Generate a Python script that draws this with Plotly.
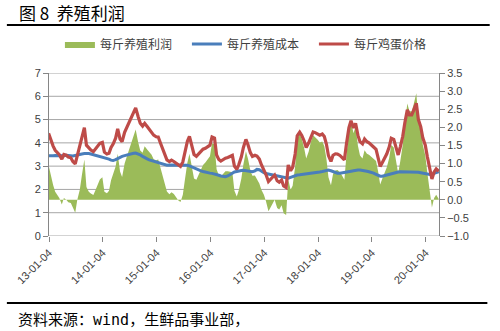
import pandas as pd
import plotly.graph_objects as go

# Semi-monthly observation dates
dates = pd.date_range("2013-01-01", "2020-04-01", freq="SMS")

# 每斤鸡蛋价格 (yuan/jin)
egg_price = [
    4.41, 4.12, 3.86, 3.68, 3.58, 3.49, 3.30, 3.50, 3.47, 3.39,
    3.36, 3.20, 3.10, 3.47, 3.78, 4.20, 4.65, 3.90, 3.76, 3.69,
    3.62, 3.72, 3.88, 3.98, 4.02, 3.60, 3.52, 3.55, 3.80, 3.95,
    4.20, 4.60, 4.16, 4.05, 4.45, 4.66, 4.88, 5.06, 5.35, 5.50,
    5.12, 4.84, 4.72, 4.84, 4.70, 4.58, 4.48, 4.33, 4.26, 4.25,
    3.96, 3.70, 3.46, 3.27, 3.20, 3.26, 3.20, 3.13, 3.04, 2.99,
    3.18, 3.60, 4.07, 4.28, 3.85, 3.50, 3.42, 3.52, 3.65, 3.73,
    3.77, 3.84, 3.90, 4.25, 4.20, 3.48, 3.29, 3.22, 3.29, 3.34,
    3.37, 3.41, 3.46, 3.00, 2.86, 3.07, 3.40, 3.80, 4.15, 3.92,
    3.58, 3.42, 3.47, 3.43, 3.30, 3.06, 2.86, 2.64, 2.34, 2.43,
    2.52, 2.62, 2.37, 2.31, 2.40, 2.15, 2.08, 3.05, 2.80, 2.95,
    3.52, 4.30, 4.46, 4.32, 4.08, 3.80, 4.00, 4.27, 4.47, 4.44,
    4.39, 4.33, 4.38, 4.27, 3.95, 3.45, 3.20, 3.47, 3.53, 3.52,
    3.46, 3.38, 3.27, 3.95, 4.65, 4.95, 4.64, 4.84, 4.32, 4.05,
    3.96, 4.17, 4.05, 4.00, 3.92, 3.82, 3.72, 3.38, 2.99, 3.15,
    3.33, 3.53, 3.82, 4.20, 4.15, 3.85, 3.48, 3.82, 4.28, 4.85,
    5.42, 5.20, 5.20, 5.42, 5.70, 5.00, 4.70, 4.22, 3.90, 3.40,
    2.90, 2.45, 2.75, 2.88, 2.78,
]

# 每斤养殖成本 (yuan/jin)
feed_cost = [
    3.45, 3.44, 3.45, 3.46, 3.45, 3.44, 3.43, 3.45, 3.47, 3.46,
    3.45, 3.44, 3.46, 3.47, 3.50, 3.52, 3.54, 3.55, 3.54, 3.52,
    3.49, 3.46, 3.44, 3.42, 3.40, 3.38, 3.34, 3.30, 3.26, 3.24,
    3.28, 3.33, 3.38, 3.42, 3.45, 3.48, 3.50, 3.52, 3.55, 3.56,
    3.53, 3.48, 3.42, 3.36, 3.31, 3.27, 3.24, 3.21, 3.17, 3.14,
    3.11, 3.08, 3.05, 3.04, 3.05, 3.05, 3.04, 3.05, 3.06, 3.05,
    3.04, 3.05, 3.04, 3.01, 2.96, 2.91, 2.87, 2.83, 2.80, 2.77,
    2.74, 2.72, 2.70, 2.69, 2.67, 2.64, 2.61, 2.58, 2.56, 2.55,
    2.58, 2.64, 2.70, 2.75, 2.77, 2.80, 2.81, 2.82, 2.81, 2.79,
    2.77, 2.76, 2.80, 2.86, 2.85, 2.78, 2.72, 2.68, 2.66, 2.64,
    2.63, 2.62, 2.60, 2.58, 2.55, 2.52, 2.50, 2.48, 2.52, 2.56,
    2.60, 2.62, 2.63, 2.64, 2.65, 2.66, 2.67, 2.68, 2.69, 2.71,
    2.73, 2.75, 2.77, 2.79, 2.81, 2.83, 2.80, 2.76, 2.72, 2.70,
    2.70, 2.71, 2.72, 2.73, 2.75, 2.78, 2.80, 2.82, 2.83, 2.83,
    2.82, 2.80, 2.78, 2.76, 2.74, 2.70, 2.65, 2.60, 2.57, 2.57,
    2.60, 2.63, 2.67, 2.69, 2.71, 2.73, 2.75, 2.76, 2.76, 2.77,
    2.76, 2.75, 2.76, 2.77, 2.76, 2.74, 2.72, 2.70, 2.68, 2.66,
    2.64, 2.66, 2.70, 2.74, 2.76,
]

# 每斤养殖利润 (yuan/jin)
farm_profit = [
    0.96, 0.68, 0.41, 0.22, 0.13, 0.05, -0.13, 0.05, 0.00, -0.07,
    -0.09, -0.24, -0.36, 0.00, 0.28, 0.68, 1.11, 0.35, 0.22, 0.17,
    0.13, 0.26, 0.44, 0.56, 0.62, 0.22, 0.18, 0.25, 0.54, 0.71,
    0.92, 1.27, 0.78, 0.63, 1.00, 1.18, 1.38, 1.54, 1.80, 1.94,
    1.59, 1.36, 1.30, 1.48, 1.39, 1.31, 1.24, 1.12, 1.09, 1.11,
    0.85, 0.62, 0.41, 0.23, 0.15, 0.21, 0.16, 0.08, -0.02, -0.06,
    0.14, 0.55, 1.03, 1.27, 0.89, 0.59, 0.55, 0.69, 0.85, 0.96,
    1.03, 1.12, 1.20, 1.56, 1.53, 0.84, 0.68, 0.64, 0.73, 0.79,
    0.79, 0.77, 0.76, 0.25, 0.09, 0.27, 0.59, 0.98, 1.34, 1.13,
    0.81, 0.66, 0.67, 0.57, 0.45, 0.28, 0.14, -0.04, -0.32, -0.21,
    -0.11, 0.00, -0.23, -0.27, -0.15, -0.37, -0.42, 0.57, 0.28, 0.39,
    0.92, 1.68, 1.83, 1.68, 1.43, 1.14, 1.33, 1.59, 1.78, 1.73,
    1.66, 1.58, 1.61, 1.48, 1.14, 0.62, 0.40, 0.71, 0.81, 0.82,
    0.76, 0.67, 0.55, 1.22, 1.90, 2.17, 1.84, 2.02, 1.49, 1.22,
    1.14, 1.37, 1.27, 1.24, 1.18, 1.12, 1.07, 0.78, 0.42, 0.58,
    0.73, 0.90, 1.15, 1.51, 1.44, 1.12, 0.73, 1.06, 1.52, 2.08,
    2.66, 2.45, 2.44, 2.65, 2.94, 2.26, 1.98, 1.52, 1.22, 0.74,
    0.26, -0.21, 0.05, 0.14, 0.02,
]

# Axis ticks
tick_dates = ["2013-01-04", "2014-01-04", "2015-01-04", "2016-01-04",
              "2017-01-04", "2018-01-04", "2019-01-04", "2020-01-04"]
tick_labels = ["13-01-04", "14-01-04", "15-01-04", "16-01-04",
               "17-01-04", "18-01-04", "19-01-04", "20-01-04"]

GREEN = "#9BBB59"
BLUE = "#4A7EBB"
RED = "#BE4B48"
GRID = "#A6A6A6"
TEXT = "#404040"
CJK = "Noto Sans CJK SC, sans-serif"

fig = go.Figure()

fig.add_trace(go.Scatter(
    x=dates, y=farm_profit, name="每斤养殖利润", yaxis="y",
    mode="lines", line=dict(width=0, color=GREEN),
    fill="tozeroy", fillcolor=GREEN,
))
fig.add_trace(go.Scatter(
    x=dates, y=feed_cost, name="每斤养殖成本", yaxis="y2",
    mode="lines", line=dict(width=3, color=BLUE),
))
fig.add_trace(go.Scatter(
    x=dates, y=egg_price, name="每斤鸡蛋价格", yaxis="y2",
    mode="lines", line=dict(width=3.2, color=RED),
))

fig.update_layout(
    width=500, height=331,
    margin=dict(l=49, r=61, t=73, b=95),
    paper_bgcolor="white", plot_bgcolor="white",
    font=dict(family=CJK, size=11, color=TEXT),
    showlegend=True,
    legend=dict(
        orientation="h", x=0.028, y=1.178, xanchor="left", yanchor="middle",
        font=dict(size=12, color=TEXT, family=CJK),
        entrywidth=82, entrywidthmode="pixels",
        itemwidth=30, bgcolor="rgba(0,0,0,0)", tracegroupgap=0,
    ),
    xaxis=dict(
        type="date", range=["2013-01-04", "2020-04-03"],
        tickvals=tick_dates, ticktext=tick_labels, tickangle=-45,
        ticks="outside", ticklen=5, tickcolor="#868686",
        showgrid=False, showline=False, zeroline=False,
        tickfont=dict(family="Liberation Sans, sans-serif", size=11, color=TEXT),
    ),
    # right-hand scale for profit (drawn beneath the lines)
    yaxis=dict(
        side="right", range=[-1.0, 3.5], dtick=0.5, tickformat=".1f",
        showgrid=False, zeroline=False,
        showline=True, linecolor="#868686", ticks="outside", ticklen=5,
        tickcolor="#868686",
        tickfont=dict(family="Liberation Sans, sans-serif", size=11, color=TEXT),
    ),
    # left-hand scale for price and cost
    yaxis2=dict(
        side="left", overlaying="y", range=[0, 7], dtick=1,
        showgrid=False, zeroline=False,
        showline=True, linecolor="#868686", ticks="outside", ticklen=5,
        tickcolor="#868686",
        tickfont=dict(family="Liberation Sans, sans-serif", size=11, color=TEXT),
    ),
)

# Horizontal gridlines on the left-hand scale, kept under the data
for v in range(0, 8):
    fig.add_shape(type="line", xref="paper", yref="y2", x0=0, x1=1, y0=v, y1=v,
                  line=dict(color=GRID, width=1), layer="below")

# Heading and its rule
fig.add_annotation(text="图 8  养殖利润", xref="paper", yref="paper",
                   x=-0.082, y=1.37, xanchor="left", yanchor="middle",
                   showarrow=False, font=dict(family=CJK, size=17, color="#000000"))
fig.add_shape(type="line", xref="paper", yref="paper", x0=-0.108, x1=1.13,
              y0=1.295, y1=1.295, line=dict(color="#000000", width=2))

# Source note and its rule
fig.add_shape(type="line", xref="paper", yref="paper", x0=-0.108, x1=1.124,
              y0=-0.411, y1=-0.411, line=dict(color="#000000", width=2))
fig.add_annotation(
    text="资料来源：<span style='font-family:DejaVu Sans Mono'>wind</span>，生鲜品事业部，",
    xref="paper", yref="paper", x=-0.085, y=-0.508, xanchor="left", yanchor="middle",
    showarrow=False, font=dict(family=CJK, size=15, color="#000000"))

fig.write_html("out.html")
